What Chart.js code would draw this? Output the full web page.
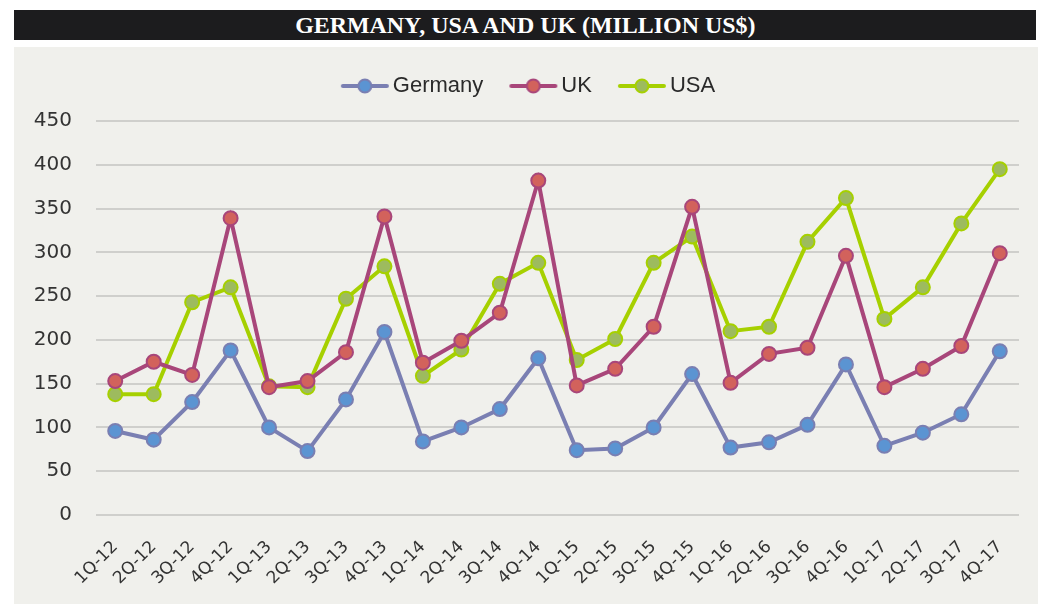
<!DOCTYPE html>
<html>
<head>
<meta charset="utf-8">
<script src="https://cdn.jsdelivr.net/npm/chart.js@4.4.1/dist/chart.umd.min.js"></script>
<style>
  html,body{margin:0;padding:0;background:#ffffff;width:1048px;height:604px;overflow:hidden;}
  #title{position:absolute;left:14px;top:10px;width:1022px;height:30px;background:#1c1c1e;color:#fff;
    display:flex;align-items:center;justify-content:center;}
  #title span{font-family:"Liberation Serif",serif;font-weight:bold;font-size:23px;display:inline-block;transform:scaleX(1.04);white-space:nowrap;position:relative;top:1px;}
  #panel{position:absolute;left:14px;top:47px;width:1024px;height:557px;background:#f0f0ec;}
  #c{position:absolute;left:0;top:-5px;display:block;}
</style>
</head>
<body>
<div id="title"><span>GERMANY, USA AND UK (MILLION US$)</span></div>
<div id="panel"><canvas id="c" width="1024" height="562"></canvas></div>
<script>
const categories = ["1Q-12","2Q-12","3Q-12","4Q-12","1Q-13","2Q-13","3Q-13","4Q-13","1Q-14","2Q-14","3Q-14","4Q-14","1Q-15","2Q-15","3Q-15","4Q-15","1Q-16","2Q-16","3Q-16","4Q-16","1Q-17","2Q-17","3Q-17","4Q-17"];
const germany = [96,86,129,188,100,73,132,209,84,100,121,179,74,76,100,161,77,83,103,172,79,94,115,187];
const uk      = [153,175,160,339,146,153,186,341,174,199,231,382,148,167,215,352,151,184,191,296,146,167,193,299];
const usa     = [138,138,243,260,147,146,247,284,159,189,264,288,177,201,288,318,210,215,312,362,224,260,333,395];
const yTicks  = [0,50,100,150,200,250,300,350,400,450];

const series = [
  {label:"Germany", data:germany, line:"#7a7fb2", fill:"#5b94d2"},
  {label:"UK",      data:uk,      line:"#a8467a", fill:"#d2625c"},
  {label:"USA",     data:usa,     line:"#a6d000", fill:"#9dbb5e"}
];

function legendIcon(s){
  const cv=document.createElement('canvas'); cv.width=50; cv.height=18;
  const g=cv.getContext('2d');
  g.strokeStyle=s.line; g.lineWidth=4; g.lineCap='round';
  g.beginPath(); g.moveTo(3,9); g.lineTo(47,9); g.stroke();
  g.beginPath(); g.arc(25,9,6.5,0,Math.PI*2); g.fillStyle=s.fill; g.fill();
  g.lineWidth=2; g.strokeStyle=s.line; g.stroke();
  return cv;
}

const legendHeight = {
  id:'legendHeight',
  beforeLayout(chart){
    const lg=chart.legend;
    if(lg && !lg._patched){
      const f=lg.fit.bind(lg);
      lg.fit=function(){
        f();
        this.height=79;
        if(this.lineWidths){ this.lineWidths=this.lineWidths.map(w=>w-30); }
      };
      lg._patched=true;
    }
  }
};

new Chart(document.getElementById('c'), {
  type:'line',
  data:{
    labels:categories,
    datasets:series.map(s=>({
      label:s.label, data:s.data,
      borderColor:s.line, backgroundColor:s.fill,
      borderWidth:4, pointRadius:7, pointHoverRadius:7,
      pointBackgroundColor:s.fill, pointBorderColor:s.line, pointBorderWidth:2,
      tension:0, fill:false
    }))
  },
  plugins:[legendHeight],
  options:{
    responsive:false, animation:false, devicePixelRatio:1,
    layout:{padding:{top:0,right:19,left:0,bottom:0}},
    plugins:{
      tooltip:{enabled:false},
      legend:{
        position:'top', align:'center',
        labels:{
          usePointStyle:true,
          pointStyleWidth:34,
          padding:33,
          color:'#2a2a2a',
          font:{family:'"Liberation Sans",Arial,sans-serif',size:22},
          generateLabels:(chart)=>series.map((s,i)=>({
            text:s.label, fillStyle:s.fill, strokeStyle:s.line, lineWidth:0,
            pointStyle:legendIcon(s), hidden:false, datasetIndex:i, fontColor:'#2a2a2a'
          }))
        }
      }
    },
    scales:{
      x:{
        offset:true,
        grid:{display:false, drawTicks:false},
        border:{display:false},
        ticks:{
          autoSkip:false, minRotation:45, maxRotation:45, padding:22,
          color:'#333',
          font:{family:'"DejaVu Sans",sans-serif',size:17}
        },
        afterFit:(sc)=>{sc.height=89;}
      },
      y:{
        min:0,max:450,
        afterBuildTicks:(sc)=>{sc.ticks=yTicks.map(v=>({value:v}));},
        grid:{color:'#cfcfcc',lineWidth:2,drawTicks:false},
        border:{display:false},
        ticks:{
          padding:24, color:'#333',
          font:{family:'"DejaVu Sans",sans-serif',size:20}
        },
        afterFit:(sc)=>{sc.width=82;}
      }
    }
  }
});
</script>
</body>
</html>
